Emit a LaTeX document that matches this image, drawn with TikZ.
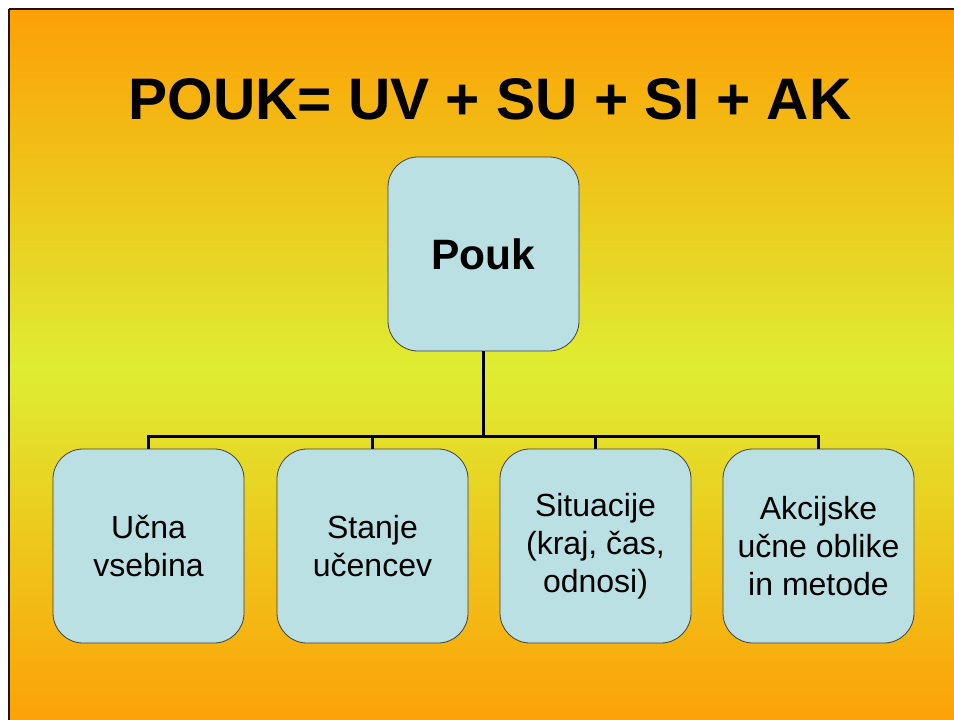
\documentclass[tikz,border=0pt]{standalone}
\usepackage{fontspec}
\setmainfont{Liberation Sans}
\begin{document}
\begin{tikzpicture}[x=1pt,y=-1pt,
  box/.style={draw=black!75, line width=0.8pt, fill=boxblue, rounded corners=30pt,
    minimum width=191pt, minimum height=194pt, align=center, inner sep=0pt},
  small/.style={font=\fontsize{32}{38}\selectfont},
  conn/.style={draw=black, line width=3pt}]
\definecolor{boxblue}{RGB}{186,224,227}
\definecolor{topor}{RGB}{253,160,5}
\definecolor{midyg}{RGB}{222,237,50}
\useasboundingbox (0,0) rectangle (954,720);
\fill[white] (0,0) rectangle (954,720);
\shade[top color=topor, bottom color=topor, middle color=midyg] (9,9) rectangle (960,728);
\draw[black!85!brown, line width=2pt] (9,9) -- (9,730) (9,9) -- (960,9);
\node[font=\fontsize{58.6}{70}\selectfont\bfseries, anchor=base] (title) at (490,119) {POUK= UV + SU + SI + AK};
\node[box, font=\fontsize{42.5}{50}\selectfont\bfseries] (pouk) at (483.5,254) {Pouk};
\node[box, small] (b1) at (148.5,546) {Učna\\vsebina};
\node[box, small] (b2) at (372.5,546) {Stanje\\učencev};
\node[box, small] (b3) at (595.5,546) {Situacije\\(kraj, čas,\\odnosi)};
\node[box, small] (b4) at (818.5,546) {Akcijske\\učne oblike\\in metode};
\coordinate (j) at (483.5,436);
\draw[conn] (pouk.south) -- (j);
\draw[conn] (j) -| (b1.north);
\draw[conn] (j) -| (b2.north);
\draw[conn] (j) -| (b3.north);
\draw[conn] (j) -| (b4.north);
\end{tikzpicture}
\end{document}
